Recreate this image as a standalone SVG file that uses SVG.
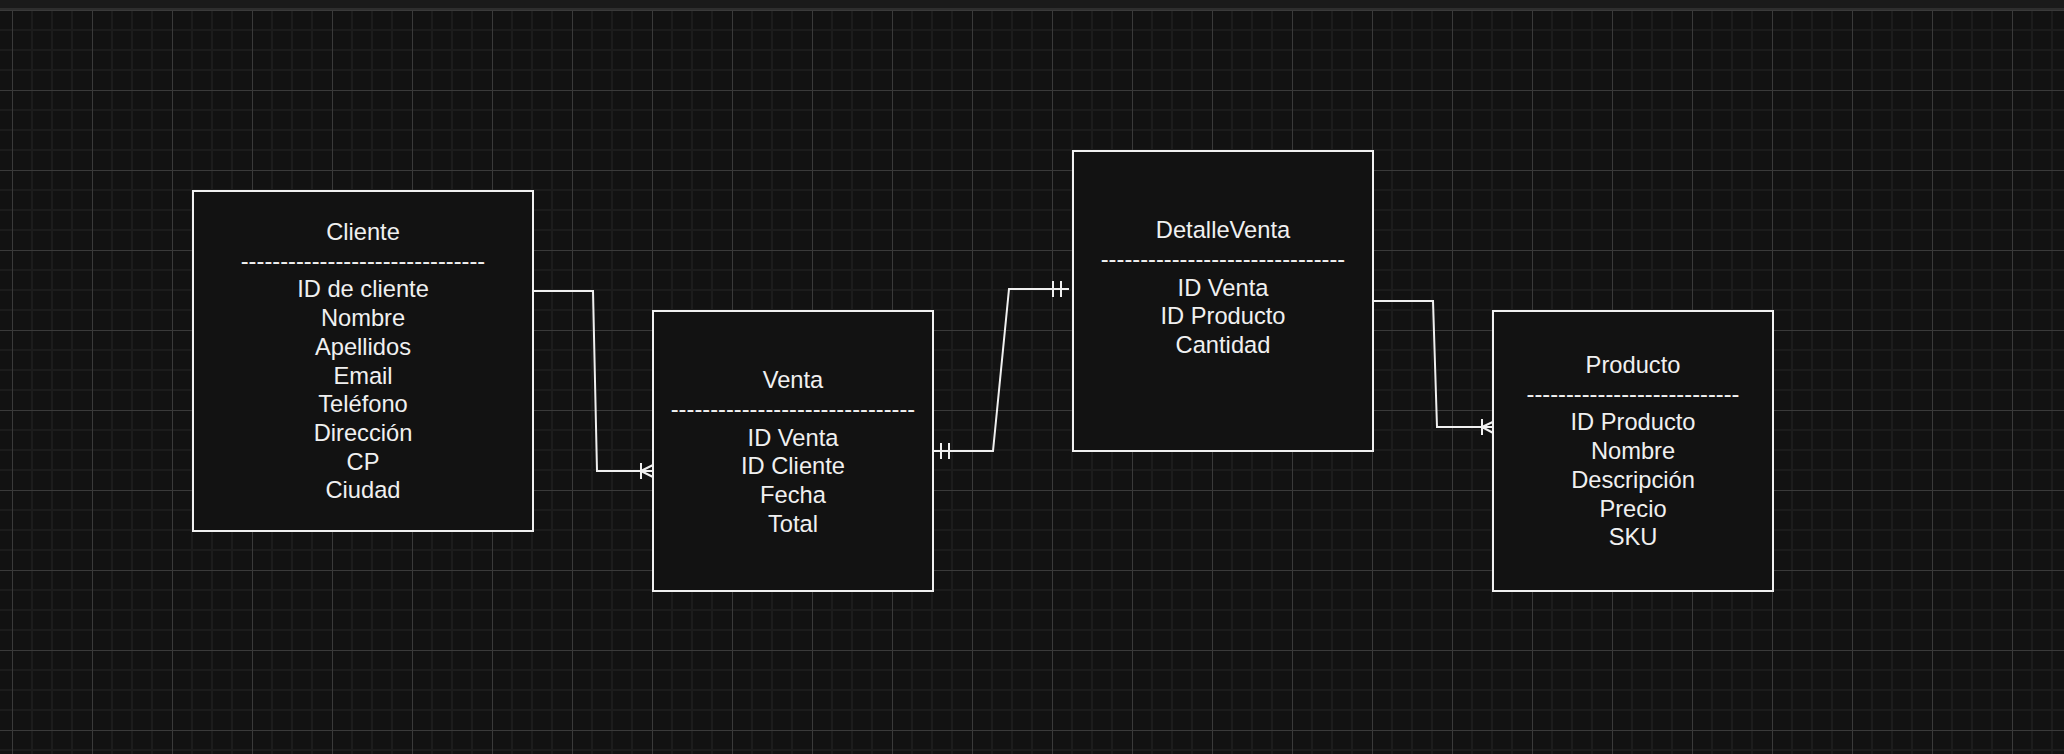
<svg xmlns="http://www.w3.org/2000/svg" width="2064" height="754" viewBox="0 0 2064 754">
<style>
.box{fill:#121212;stroke:#f0f0f0;stroke-width:2}
.t{font-family:"Liberation Sans",Arial,Helvetica,sans-serif;font-size:23.7px;fill:#f0f0f0;text-anchor:middle}
.c{fill:none;stroke:#f0f0f0;stroke-width:2}
</style>
<defs>
<pattern id="grid" patternUnits="userSpaceOnUse" x="12" y="10" width="80" height="80">
<path d="M20,0V80M40,0V80M60,0V80M0,20H80M0,40H80M0,60H80" stroke="#1c1c1c" stroke-width="2" fill="none"/>
<path d="M0.5,0V80M0,0.5H80" stroke="#3a3a3a" stroke-width="1" fill="none"/>
</pattern>
</defs>
<rect width="2064" height="754" fill="#121212"/>
<rect x="0" y="10" width="2064" height="744" fill="url(#grid)"/>
<rect x="0" y="0" width="2064" height="10" fill="#1a1a1a"/>
<line x1="0" y1="9" x2="2064" y2="9" stroke="#2e2e2e" stroke-width="2"/>
<g id="connectors">
<path class="c" d="M533,291H593L597,471H653M641,463V479M641,471L657,463M641,471L657,479"/>
<path class="c" d="M933,451H993L1009,289H1069M941,443V459M949,443V459M1053,281V297M1061,281V297"/>
<path class="c" d="M1373,301H1433L1437,427H1493M1482,419V435M1482,427L1497,420M1482,427L1497,435"/>
</g>
<g id="cliente">
<rect class="box" x="193" y="191" width="340" height="340"/>
<text class="t" x="363" y="240">Cliente</text>
<text class="t" x="363" y="268.7">-------------------------------</text>
<text class="t" x="363" y="297.4">ID de cliente</text>
<text class="t" x="363" y="326.1">Nombre</text>
<text class="t" x="363" y="354.8">Apellidos</text>
<text class="t" x="363" y="383.5">Email</text>
<text class="t" x="363" y="412.2">Teléfono</text>
<text class="t" x="363" y="440.9">Dirección</text>
<text class="t" x="363" y="469.6">CP</text>
<text class="t" x="363" y="498.3">Ciudad</text>
</g>
<g id="venta">
<rect class="box" x="653" y="311" width="280" height="280"/>
<text class="t" x="793" y="388.3">Venta</text>
<text class="t" x="793" y="417">-------------------------------</text>
<text class="t" x="793" y="445.7">ID Venta</text>
<text class="t" x="793" y="474.4">ID Cliente</text>
<text class="t" x="793" y="503.1">Fecha</text>
<text class="t" x="793" y="531.8">Total</text>
</g>
<g id="detalleventa">
<rect class="box" x="1073" y="151" width="300" height="300"/>
<text class="t" x="1223" y="238.3">DetalleVenta</text>
<text class="t" x="1223" y="267">-------------------------------</text>
<text class="t" x="1223" y="295.7">ID Venta</text>
<text class="t" x="1223" y="324.4">ID Producto</text>
<text class="t" x="1223" y="353.1">Cantidad</text>
</g>
<g id="producto">
<rect class="box" x="1493" y="311" width="280" height="280"/>
<text class="t" x="1633" y="373">Producto</text>
<text class="t" x="1633" y="401.7">---------------------------</text>
<text class="t" x="1633" y="430.4">ID Producto</text>
<text class="t" x="1633" y="459.1">Nombre</text>
<text class="t" x="1633" y="487.8">Descripción</text>
<text class="t" x="1633" y="516.5">Precio</text>
<text class="t" x="1633" y="545.2">SKU</text>
</g>
</svg>
